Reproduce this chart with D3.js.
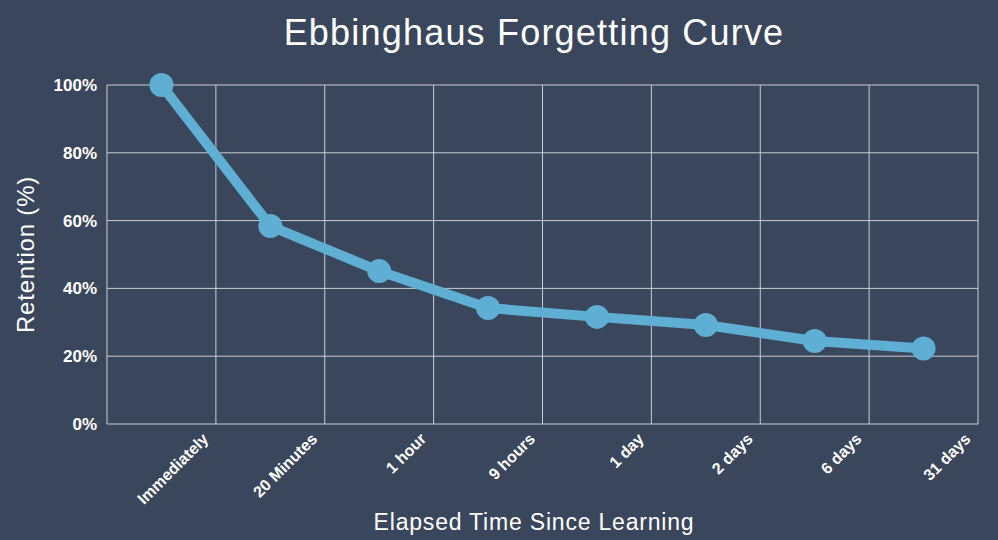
<!DOCTYPE html>
<html><head><meta charset="utf-8">
<script src="https://cdn.jsdelivr.net/npm/d3@7"></script>
<style>body{margin:0;background:#3a465c;}svg{display:block;font-family:"Liberation Sans",Arial,sans-serif;}</style>
</head><body><div id="chart"></div>
<script>
var categories = ["Immediately", "20 Minutes", "1 hour", "9 hours", "1 day", "2 days", "6 days", "31 days"];
var retention = [100, 58.4, 45.1, 34.2, 31.6, 29.2, 24.5, 22.3];
var yTicks = [0, 20, 40, 60, 80, 100];

var w = 998, h = 540;
var padding = { top: 85, right: 20, bottom: 116, left: 107 };

var svg = d3.select("#chart").append("svg").attr("width", w).attr("height", h);
svg.append("rect").attr("width", w).attr("height", h).attr("fill", "#3a465c");

var xScale = d3.scaleBand().domain(categories).range([padding.left, w - padding.right]);
var yScale = d3.scaleLinear().domain([0, 100]).range([h - padding.bottom, padding.top]);

// gridlines
svg.append("g").selectAll("line").data(yTicks).join("line")
    .attr("x1", padding.left).attr("x2", w - padding.right)
    .attr("y1", d => yScale(d)).attr("y2", d => yScale(d))
    .attr("stroke", "#c9cdd5").attr("stroke-width", 1);
var xEdges = categories.map(c => xScale(c)).concat([w - padding.right]);
svg.append("g").selectAll("line").data(xEdges).join("line")
    .attr("x1", d => d).attr("x2", d => d)
    .attr("y1", yScale(0)).attr("y2", yScale(100))
    .attr("stroke", "#c9cdd5").attr("stroke-width", 1);

// y tick labels
svg.append("g").selectAll("text").data(yTicks).join("text")
    .attr("x", padding.left - 10).attr("y", d => yScale(d)).attr("dy", "0.35em")
    .attr("text-anchor", "end").attr("fill", "#fff")
    .attr("font-size", 17).attr("font-weight", "bold")
    .text(d => d + "%");

// x tick labels
svg.append("g").selectAll("text").data(categories).join("text")
    .attr("transform", d => "translate(" + (xScale(d) + xScale.bandwidth() / 2 + 44) + "," + (yScale(0) + 12) + ") rotate(-45)")
    .attr("text-anchor", "end").attr("dy", "0.35em").attr("fill", "#fff")
    .attr("font-size", 16).attr("font-weight", "bold")
    .text(d => d);

var data = categories.map((c, i) => ({ cat: c, value: retention[i] }));
var line = d3.line().x(d => xScale(d.cat) + xScale.bandwidth() / 2).y(d => yScale(d.value));

svg.append("path").datum(data).attr("d", line)
    .attr("fill", "none").attr("stroke", "#5eafd3").attr("stroke-width", 10)
    .attr("stroke-linejoin", "round");
svg.append("g").selectAll("circle").data(data).join("circle")
    .attr("cx", d => xScale(d.cat) + xScale.bandwidth() / 2).attr("cy", d => yScale(d.value))
    .attr("r", 12).attr("fill", "#5eafd3");

// titles
svg.append("text").attr("x", 534).attr("y", 45).attr("text-anchor", "middle")
    .attr("fill", "#fff").attr("font-size", 36).attr("letter-spacing", 1.2)
    .text("Ebbinghaus Forgetting Curve");
svg.append("text").attr("x", 534).attr("y", 530).attr("text-anchor", "middle")
    .attr("fill", "#fff").attr("font-size", 23).attr("letter-spacing", 0.8)
    .text("Elapsed Time Since Learning");
svg.append("text").attr("transform", "rotate(-90)").attr("x", -(padding.top + yScale(0)) / 2).attr("y", 34)
    .attr("text-anchor", "middle").attr("fill", "#fff").attr("font-size", 24).attr("letter-spacing", 0.8)
    .text("Retention (%)");
</script></body></html>
